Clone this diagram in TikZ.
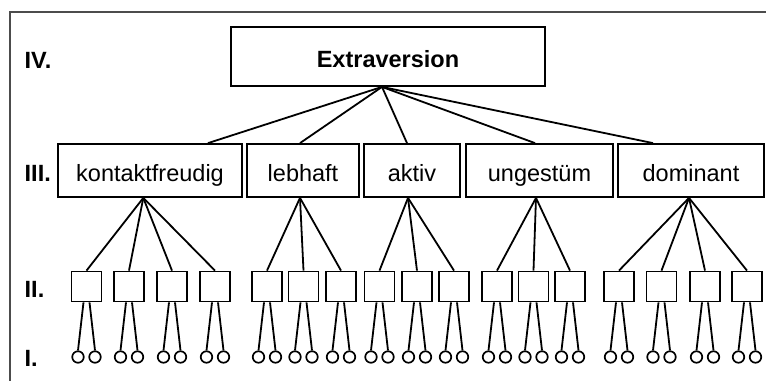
\documentclass[tikz,border=0pt]{standalone}
\usepackage{fontspec}
\setmainfont{Liberation Sans}
\begin{document}
\begin{tikzpicture}[x=1pt,y=-1pt,
  txt/.style={font=\fontsize{23.5}{28}\selectfont},
  box/.style={txt, draw, line width=1.8pt, inner sep=0pt, text height=21.5pt, text depth=0pt},
  facet/.style={draw, line width=1.8pt, inner sep=0pt, minimum width=30pt, minimum height=30pt},
  item/.style={circle, draw, line width=1.7pt, inner sep=0pt, minimum size=11.5pt},
  lvl/.style={font=\fontsize{23.5}{28}\selectfont\bfseries, anchor=base west, inner sep=0pt},
  link/.style={line width=1.8pt}]
\useasboundingbox (0,0) rectangle (766,381);

% open frame: top and left rules
\draw[line width=1.1pt, black!70] (766,12) -- (10,12) -- (10,381);

% level labels
\node[lvl] (l4) at (24.5,68.3) {IV.};
\node[lvl] (l3) at (24.5,181.5) {III.};
\node[lvl] (l2) at (24.5,297) {II.};
\node[lvl] (l1) at (24.5,366) {I.};

% top factor
\node[box, font=\fontsize{23.5}{28}\selectfont\bfseries, minimum width=314pt, minimum height=59pt] (ext) at (388,56.5) {Extraversion};
\coordinate (ext-foot) at ([xshift=-6pt]ext.south);

% second-order facets
\node[box, minimum width=184pt, minimum height=53pt] (kf) at (150,170.5) {kontaktfreudig};
\node[box, minimum width=112pt, minimum height=53pt] (lb) at (303,170.5) {lebhaft};
\node[box, minimum width=96pt,  minimum height=53pt] (ak) at (412,170.5) {aktiv};
\node[box, minimum width=147pt, minimum height=53pt] (ug) at (539.5,170.5) {ungestüm};
\node[box, minimum width=146pt, minimum height=53pt] (dm) at (691,170.5) {dominant};

\draw[link] (ext-foot) -- ([xshift=58pt]kf.north);
\draw[link] (ext-foot) -- ([xshift=-3pt]lb.north);
\draw[link] (ext-foot) -- ([xshift=-5pt]ak.north);
\draw[link] (ext-foot) -- ([xshift=-4.5pt]ug.north);
\draw[link] (ext-foot) -- ([xshift=-38pt]dm.north);

\coordinate (kf-foot) at ([xshift=-6.7pt]kf.south);
\coordinate (lb-foot) at ([xshift=-3pt]lb.south);
\coordinate (ak-foot) at ([xshift=-4pt]ak.south);
\coordinate (ug-foot) at ([xshift=-3.5pt]ug.south);
\coordinate (dm-foot) at ([xshift=-2pt]dm.south);

% habits and their items
\foreach \p/\xs in {kf/{86.5,129,172,215}, lb/{267,303.5,341}, ak/{379.5,417,454},
                    ug/{497,533.5,570}, dm/{619,661.5,705,747}}{
  \foreach \x [count=\i] in \xs {
    \node[facet] (f\p\i) at (\x,286.5) {};
    \draw[link] (\p-foot) -- (f\p\i.north);
    \node[item] (c\p\i a) at (\x-8.5,357) {};
    \node[item] (c\p\i b) at (\x+8.5,357) {};
    \draw[link] ([xshift=-3pt]f\p\i.south) -- (c\p\i a.north);
    \draw[link] ([xshift=3pt]f\p\i.south) -- (c\p\i b.north);
  }
}
\end{tikzpicture}
\end{document}
